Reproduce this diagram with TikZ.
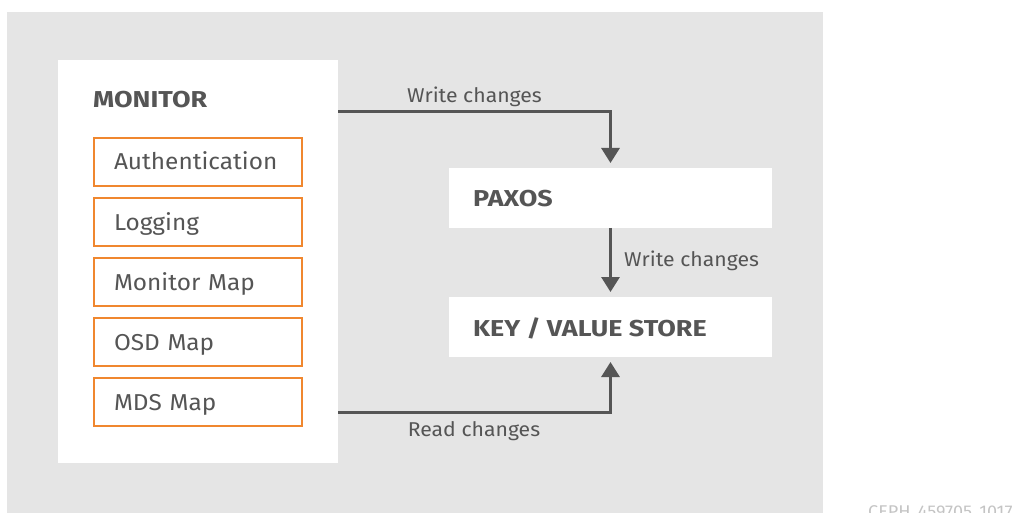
\documentclass[tikz,border=0pt]{standalone}
\usepackage{fontspec}
\setmainfont{Fira Sans}
\newfontfamily\bodyface{Fira Sans}[FakeStretch=1.06]
\newfontfamily\headface{Fira Sans}[FakeStretch=1.17]
\usetikzlibrary{arrows.meta}
\definecolor{bggray}{HTML}{E5E5E5}
\definecolor{boxorange}{HTML}{F0872F}
\definecolor{ink}{HTML}{555555}
\definecolor{wmgray}{HTML}{C4C4C4}
\begin{document}
\begin{tikzpicture}[x=1pt,y=-1pt,
  panel/.style={fill=white, draw=none, inner sep=0pt, outer sep=0pt},
  title/.style={text=ink, anchor=base west, inner sep=0pt,
    font=\headface\fontsize{23}{27}\selectfont\bfseries},
  item/.style={draw=boxorange, line width=2pt, fill=white,
    minimum height=48pt, inner xsep=20pt, inner ysep=0pt,
    text width=168pt, align=left, text height=16pt, text depth=0pt,
    text=ink, font=\bodyface\fontsize{23}{27}\selectfont},
  flow/.style={draw=ink, line width=3pt,
    -{Triangle[length=15pt,width=18pt]}, shorten >=5pt},
  tag/.style={text=ink, anchor=base, inner sep=0pt,
    font=\bodyface\fontsize{20}{24}\selectfont}
]
\useasboundingbox (0,0) rectangle (1020,513);
\clip (0,0) rectangle (1020,513);

% backdrop
\fill[bggray] (7,12) rectangle (823,513);

% monitor panel with its component boxes
\node[panel, minimum width=280pt, minimum height=403pt] (monitor) at (198,261.5) {};
\node[title] (montitle) at (93,108) {MONITOR};
\node[item] (auth) at (198,162) {Authentication};
\node[item] (log)  at (198,222) {Logging};
\node[item] (mon)  at (198,282) {Monitor Map};
\node[item] (osd)  at (198,342) {OSD Map};
\node[item] (mds)  at (198,402) {MDS Map};

% consensus and storage panels
\node[panel, minimum width=323pt, minimum height=60pt] (paxos) at (610.5,198) {};
\node[title] (paxostitle) at (473,207) {PAXOS};
\node[panel, minimum width=323pt, minimum height=60pt] (kv) at (610.5,327) {};
\node[title] (kvtitle) at (473,336) {KEY / VALUE STORE};

% data flow
\draw[flow] ([yshift=-52pt]monitor.north east) -| (paxos.north);
\draw[flow] (paxos.south) -- (kv.north);
\draw[flow] ([yshift=51pt]monitor.south east) -| (kv.south);

\node[tag] (w1) at (474.5,103) {Write changes};
\node[tag, anchor=base west] (w2) at (624,266) {Write changes};
\node[tag] (r1) at (474,436) {Read changes};

% figure id
\node[anchor=base west, inner sep=0pt, text=wmgray,
  font=\bodyface\fontsize{17}{20}\selectfont] (figid) at (868,517) {CEPH\_459705\_1017};
\end{tikzpicture}
\end{document}
